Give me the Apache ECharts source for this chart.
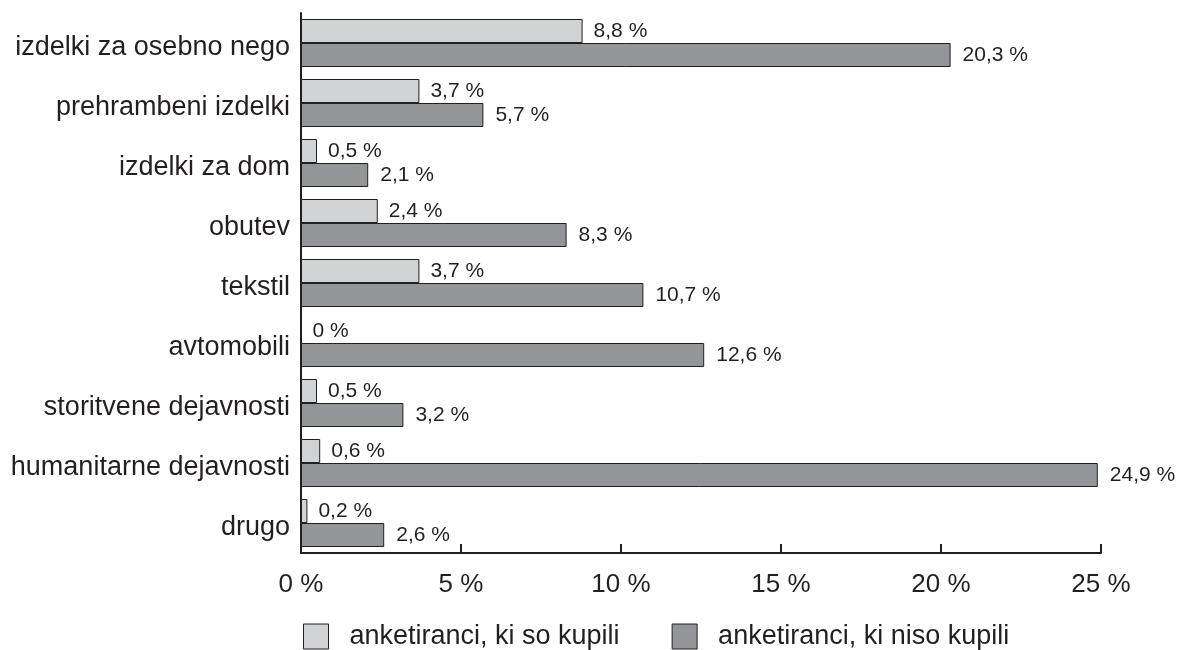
<!DOCTYPE html>
<html>
<head>
<meta charset="utf-8">
<script src="https://cdn.jsdelivr.net/npm/echarts@6/dist/echarts.min.js"></script>
<style>
  html, body { margin: 0; padding: 0; background: #fff; }
  #chart { width: 1186px; height: 650px; }
</style>
</head>
<body>
<div id="chart"></div>
<script>
const categories = [
  'izdelki za osebno nego',
  'prehrambeni izdelki',
  'izdelki za dom',
  'obutev',
  'tekstil',
  'avtomobili',
  'storitvene dejavnosti',
  'humanitarne dejavnosti',
  'drugo'
];
const boughtValues = [8.8, 3.7, 0.5, 2.4, 3.7, 0, 0.5, 0.6, 0.2];
const notBoughtValues = [20.3, 5.7, 2.1, 8.3, 10.7, 12.6, 3.2, 24.9, 2.6];
const seriesNames = ['anketiranci, ki so kupili', 'anketiranci, ki niso kupili'];
const xTicks = [0, 5, 10, 15, 20, 25];

const FONT = '"Liberation Sans", Arial, sans-serif';
const fmt = (v) => String(v).replace('.', ',') + ' %';

const chart = echarts.init(document.getElementById('chart'));

chart.setOption({
  backgroundColor: '#fff',
  animation: false,
  textStyle: { fontFamily: FONT, color: '#231f20' },
  grid: { left: 301, right: 85, top: 13, bottom: 97, containLabel: false },
  legend: {
    left: 298,
    top: 618,
    icon: 'rect',
    itemWidth: 25,
    itemHeight: 25,
    itemGap: 52,
    itemStyle: { borderColor: '#231f20', borderWidth: 1 },
    textStyle: { fontSize: 27, color: '#231f20', padding: [0, 0, 0, 16] },
    data: seriesNames
  },
  xAxis: {
    type: 'value',
    min: xTicks[0],
    max: xTicks[xTicks.length - 1],
    interval: 5,
    axisLine: { show: true, lineStyle: { color: '#231f20', width: 2 } },
    axisTick: { show: true, inside: true, length: 9, lineStyle: { color: '#231f20', width: 2 } },
    splitLine: { show: false },
    axisLabel: { fontSize: 26, color: '#231f20', margin: 19, formatter: (v) => v + ' %' }
  },
  yAxis: {
    type: 'category',
    inverse: true,
    data: categories,
    axisLine: { show: true, lineStyle: { color: '#231f20', width: 2 } },
    axisTick: { show: false },
    axisLabel: {
      color: '#231f20',
      margin: 11,
      formatter: (v) => '{c|' + v + '}',
      rich: { c: { fontSize: 27, fontFamily: FONT, color: '#231f20', padding: [9, 0, 0, 0] } }
    }
  },
  series: [
    {
      name: seriesNames[0],
      type: 'bar',
      data: boughtValues,
      barGap: '0%',
      barCategoryGap: '20%',
      itemStyle: { color: '#d1d2d4', borderColor: '#231f20', borderWidth: 1 },
      label: { show: true, position: 'right', distance: 11, fontSize: 21, color: '#231f20', formatter: (p) => fmt(p.value) }
    },
    {
      name: seriesNames[1],
      type: 'bar',
      data: notBoughtValues,
      barGap: '0%',
      barCategoryGap: '20%',
      itemStyle: { color: '#939598', borderColor: '#231f20', borderWidth: 1 },
      label: { show: true, position: 'right', distance: 12, fontSize: 21, color: '#231f20', formatter: (p) => fmt(p.value) }
    }
  ]
});
</script>
</body>
</html>
